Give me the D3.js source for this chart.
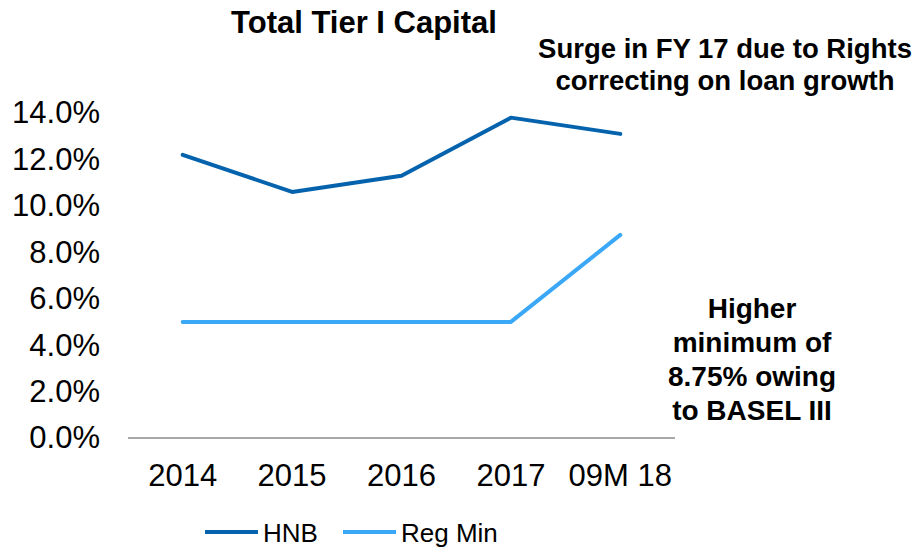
<!DOCTYPE html>
<html>
<head>
<meta charset="utf-8">
<script src="https://cdn.jsdelivr.net/npm/d3@7"></script>
<style>
  body { margin: 0; background: #fff; }
  text { font-family: "Liberation Sans", Arial, sans-serif; fill: #000; }
</style>
</head>
<body>
<div id="chart"></div>
<script>
// Data
const categories = ["2014", "2015", "2016", "2017", "09M 18"];
const hnbValues = [12.2, 10.6, 11.3, 13.8, 13.1];
const regMinValues = [5.0, 5.0, 5.0, 5.0, 8.75];
const yTicks = [0, 2, 4, 6, 8, 10, 12, 14];

const series = [
  {name: "HNB", values: hnbValues, color: "#0563ad"},
  {name: "Reg Min", values: regMinValues, color: "#3aa7f7"}
];

const totalWidth = 920, totalHeight = 548;
const margin = {top: 113, right: 245, bottom: 110, left: 128},
    width = totalWidth - margin.left - margin.right,
    height = totalHeight - margin.top - margin.bottom;

const root = d3.select("#chart")
  .append("svg")
    .attr("width", totalWidth)
    .attr("height", totalHeight);

const svg = root.append("g")
    .attr("transform", "translate(" + margin.left + "," + margin.top + ")");

// scales
const x = d3.scaleBand()
    .domain(categories)
    .range([0, width])
    .padding(0);

const y = d3.scaleLinear()
    .domain([0, 14])
    .range([height, 0]);

// Y axis labels (no axis line)
const yAxis = svg.append("g")
    .call(d3.axisLeft(y).tickValues(yTicks).tickSize(0).tickPadding(28)
      .tickFormat(d => d.toFixed(1) + "%"));
yAxis.select(".domain").remove();
yAxis.selectAll("text")
    .style("font-size", "31px")
    .attr("fill", "#000");

// X axis baseline
svg.append("line")
    .attr("x1", 0)
    .attr("x2", width)
    .attr("y1", y(0))
    .attr("y2", y(0))
    .attr("stroke", "#8c8c8c")
    .attr("stroke-width", 1.5);

const xAxis = svg.append("g")
    .attr("transform", "translate(0," + height + ")")
    .call(d3.axisBottom(x).tickSize(0).tickPadding(26));
xAxis.select(".domain").remove();
xAxis.selectAll("text")
    .style("font-size", "31px")
    .attr("fill", "#000");

// lines
const line = d3.line()
    .x((d, i) => x(categories[i]) + x.bandwidth() / 2)
    .y(d => y(d));

svg.selectAll(".series")
  .data(series)
  .enter()
  .append("path")
    .attr("class", "series")
    .attr("d", d => line(d.values))
    .attr("fill", "none")
    .attr("stroke", d => d.color)
    .attr("stroke-width", 4)
    .attr("stroke-linejoin", "round")
    .attr("stroke-linecap", "round");

// title
root.append("text")
    .attr("x", 364)
    .attr("y", 33)
    .attr("text-anchor", "middle")
    .style("font-size", "31px")
    .style("font-weight", "bold")
    .text("Total Tier I Capital");

// annotations
function annotate(lines, cx, y0, step, size) {
  const t = root.append("text")
      .attr("text-anchor", "middle")
      .style("font-size", size + "px")
      .style("font-weight", "bold");
  lines.forEach((s, i) => {
    t.append("tspan").attr("x", cx).attr("y", y0 + i * step).text(s);
  });
}
annotate(["Surge in FY 17 due to Rights", "correcting on loan growth"], 725, 58, 32, 27.5);
annotate(["Higher", "minimum of", "8.75% owing", "to BASEL III"], 752, 318, 34, 28);

// legend
const legend = root.append("g").attr("transform", "translate(205,532)");
const legendX = [0, 138];
series.forEach((s, i) => {
  const g = legend.append("g").attr("transform", "translate(" + legendX[i] + ",0)");
  g.append("line")
      .attr("x1", 0).attr("x2", 53)
      .attr("y1", 0).attr("y2", 0)
      .attr("stroke", s.color)
      .attr("stroke-width", 4);
  g.append("text")
      .attr("x", 58)
      .attr("y", 10)
      .style("font-size", "26px")
      .text(s.name);
});
</script>
</body>
</html>
